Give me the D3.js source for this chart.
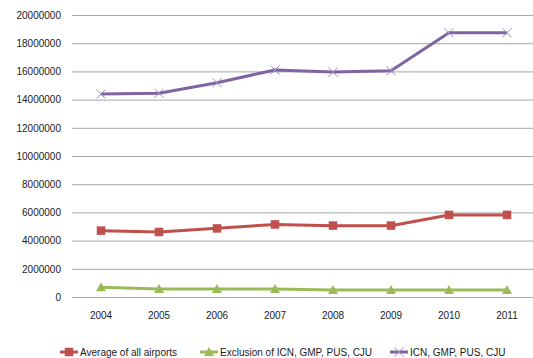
<!DOCTYPE html>
<html>
<head>
<meta charset="utf-8">
<script src="https://cdn.jsdelivr.net/npm/d3@7"></script>
<style>
  html, body { margin: 0; padding: 0; background: #fff; }
  svg { display: block; }
  text { font-family: "Liberation Sans", Arial, sans-serif; fill: #1a1a1a; }
</style>
</head>
<body>
<svg id="chart" width="533" height="358"></svg>
<script>
// Passenger totals per year
const years = ["2004", "2005", "2006", "2007", "2008", "2009", "2010", "2011"];
const averageAll = [4700000, 4610000, 4870000, 5150000, 5060000, 5060000, 5820000, 5820000];
const exclusionMajor = [690000, 570000, 570000, 570000, 500000, 500000, 500000, 500000];
const majorAirports = [14400000, 14450000, 15200000, 16100000, 15950000, 16050000, 18740000, 18740000];
const yTicks = [0, 2000000, 4000000, 6000000, 8000000, 10000000, 12000000, 14000000, 16000000, 18000000, 20000000];

const series = [
  { name: "Average of all airports", values: averageAll, color: "#C0504D", marker: "square" },
  { name: "Exclusion of ICN, GMP, PUS, CJU", values: exclusionMajor, color: "#9BBB59", marker: "triangle" },
  { name: "ICN, GMP, PUS, CJU", values: majorAirports, color: "#8064A2", marker: "cross" }
];

const svg = d3.select("#chart");
const plot = { left: 72, right: 536, top: 15, bottom: 297 };

const x = d3.scaleBand().domain(years).range([plot.left, plot.right]);
const y = d3.scaleLinear().domain([0, 20000000]).range([plot.bottom, plot.top]);
const cx = d => x(d) + x.bandwidth() / 2;

// Horizontal gridlines with value labels
const yAxis = d3.axisLeft(y).tickValues(yTicks).tickSize(-(plot.right - plot.left)).tickPadding(11).tickFormat(d3.format("d"));
const gy = svg.append("g").attr("transform", `translate(${plot.left},0)`).call(yAxis);
gy.select(".domain").remove();
gy.selectAll(".tick line").attr("stroke", "#a6a6a6").attr("stroke-width", 1);
gy.selectAll(".tick text").attr("font-size", 10).attr("fill", "#1a1a1a")
  .style("font-family", "'Liberation Sans', Arial, sans-serif");

// Year labels
const xAxis = d3.axisBottom(x).tickSize(0).tickPadding(15);
const gx = svg.append("g").attr("transform", `translate(0,${plot.bottom})`).call(xAxis);
gx.select(".domain").remove();
gx.selectAll(".tick text").attr("font-size", 10).attr("fill", "#1a1a1a")
  .style("font-family", "'Liberation Sans', Arial, sans-serif");

const line = d3.line().x((d, i) => cx(years[i])).y(d => y(d));

function drawMarker(g, type, color, px, py) {
  if (type === "square") {
    g.append("rect").attr("x", px - 4).attr("y", py - 4).attr("width", 8).attr("height", 8)
      .attr("fill", color).attr("stroke", color).attr("stroke-width", 0.5);
  } else if (type === "triangle") {
    g.append("path").attr("d", `M${px},${py - 5}L${px + 5},${py + 4}L${px - 5},${py + 4}Z`)
      .attr("fill", color);
  } else {
    g.append("path").attr("d", `M${px - 4.5},${py - 4.5}L${px + 4.5},${py + 4.5}M${px + 4.5},${py - 4.5}L${px - 4.5},${py + 4.5}`)
      .attr("stroke", "#9b8cc0").attr("stroke-width", 1).attr("fill", "none");
  }
}

series.forEach(s => {
  const g = svg.append("g");
  g.append("path").datum(s.values).attr("d", line)
    .attr("fill", "none").attr("stroke", s.color).attr("stroke-width", 3)
    .attr("stroke-linejoin", "round");
  s.values.forEach((v, i) => drawMarker(g, s.marker, s.color, cx(years[i]), y(v)));
});

// Legend
const legendY = 352;
const legendX = [60, 200, 390];
series.forEach((s, i) => {
  const g = svg.append("g");
  const x0 = legendX[i];
  g.append("line").attr("x1", x0).attr("x2", x0 + 18).attr("y1", legendY).attr("y2", legendY)
    .attr("stroke", s.color).attr("stroke-width", 3);
  drawMarker(g, s.marker, s.color, x0 + 9, legendY);
  g.append("text").attr("x", x0 + 20).attr("y", legendY).attr("dy", "0.35em")
    .attr("font-size", 10).text(s.name);
});
</script>
</body>
</html>
